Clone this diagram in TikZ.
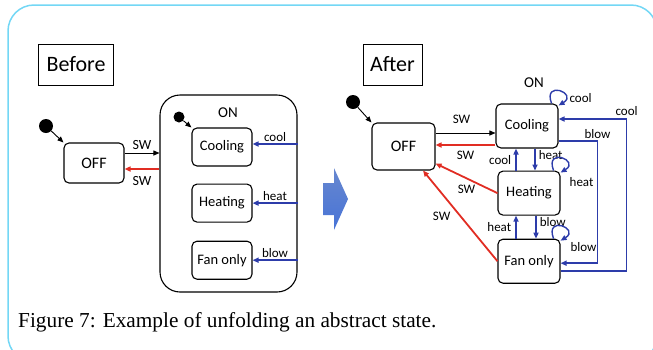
\documentclass[tikz,border=0pt]{standalone}
\usepackage{fontspec}
\setmainfont{Carlito}
\newfontfamily\capfont{Liberation Serif}
\usetikzlibrary{arrows.meta,positioning,calc}

\definecolor{framecyan}{RGB}{115,215,245}
\definecolor{trblue}{RGB}{45,60,170}
\definecolor{trred}{RGB}{225,45,35}
\definecolor{bigblue}{RGB}{65,105,195}

\tikzset{
  state/.style={draw, rounded corners=5pt, line width=1.1pt, minimum width=60pt,
    minimum height=38pt, inner sep=1pt, font=\fontsize{14.5}{16}\selectfont},
  titlebox/.style={draw, line width=0.9pt, minimum width=75pt, minimum height=41pt,
    font=\fontsize{22}{24}\selectfont},
  initdot/.style={circle, fill=black, minimum size=14pt, inner sep=0pt},
  tr/.style={-{Triangle[length=6pt,width=5pt]}, line width=0.9pt},
  blu/.style={tr, trblue, line width=1.6pt},
  rd/.style={tr, trred, line width=1.8pt},
  lbl/.style={text=black, font=\fontsize{13}{15}\selectfont, inner sep=1pt},
  selfloop/.style={blu, line width=1.4pt}
}

\begin{document}
\begin{tikzpicture}[x=1pt, y=-1pt]
    \useasboundingbox (0,0) rectangle (653,349);
    % Outer frame
    \draw[framecyan, line width=1.5pt, rounded corners=26pt] (8,5) rectangle (657,362);

    % ---- Before ----
    \node[titlebox] (Before) at (76,64.5) {Before};
    \node[initdot] (initA) at (46,126) {};
    \node[state, minimum height=40pt, font=\fontsize{16}{18}\selectfont] (offA) at (94,163) {OFF};
    % Composite ON state
    \node[draw, rounded corners=20pt, line width=1.1pt, minimum width=137pt, minimum height=197pt] (onA) at (228.5,193.5) {};
    \node[font=\fontsize{15}{17}\selectfont] (onlblA) at (228,113) {ON};
    \node[initdot, minimum size=11pt] (initB) at (179,117) {};
    \node[state] (coolA) at (222,147) {Cooling};
    \node[state, below=17pt of coolA] (heatA) {Heating};
    \node[state, below=18pt of heatA] (fanA) {Fan only};

    \draw[tr] (initA) -- (offA.north west);
    \draw[tr] (initB) -- (coolA.north west);
    \coordinate (swA1) at ([yshift=10pt]offA.east);
    \coordinate (swA2) at ([yshift=-6pt]offA.east);
    \draw[tr] (swA1) -- (swA1 -| onA.west) node[lbl, midway, above=2pt, font=\fontsize{14}{16}\selectfont] {SW};
    \draw[rd] (swA2 -| onA.west) -- (swA2) node[lbl, midway, below=6pt, font=\fontsize{14}{16}\selectfont] {SW};
    \draw[blu] ([yshift=3pt]coolA.east -| onA.east) -- ([yshift=3pt]coolA.east) node[lbl, midway, above=1pt] {cool};
    \draw[blu] (heatA.east -| onA.east) -- (heatA.east) node[lbl, midway, above=1pt] {heat};
    \draw[blu] (fanA.east -| onA.east) -- (fanA.east) node[lbl, midway, above=1pt] {blow};

    % Arrow between the two halves
    \shade[top color=bigblue!80, bottom color=bigblue!110!black, shading angle=0]
      (323,183) -- (334,183) -- (334,168) -- (348,199) -- (334,230) -- (334,215) -- (323,215) -- cycle;

    % ---- After ----
    \node[titlebox, minimum width=59pt] (After) at (392.5,64.5) {After};
    \node[initdot] (initC) at (353,102) {};
    \node[state, minimum width=63pt, minimum height=47pt, font=\fontsize{16}{18}\selectfont] (offB) at (403.5,146.5) {OFF};
    \node[font=\fontsize{15}{17}\selectfont] (onlblB) at (534,83) {ON};
    \node[state, minimum width=62pt, minimum height=44pt] (coolB) at (527,126) {Cooling};
    \node[state, minimum width=62pt, minimum height=44pt, below=22pt of coolB, xshift=2pt] (heatB) {Heating};
    \node[state, minimum width=62pt, minimum height=44pt, below=23pt of heatB] (fanB) {Fan only};

    \draw[tr] (initC) -- (offB.north west);
    % Transitions to and from OFF
    \coordinate (swB1) at ([yshift=13.5pt]offB.east);
    \coordinate (swB2) at ([yshift=1.5pt]offB.east);
    \draw[tr] (swB1) -- (swB1 -| coolB.west) node[lbl, midway, above=8pt, xshift=-4pt] {SW};
    \draw[rd] (swB2 -| coolB.west) -- (swB2) node[lbl, midway, below=4pt] {SW};
    \draw[rd] (heatB.west) -- ([yshift=-17pt]offB.east) node[lbl, midway, below=5pt] {SW};
    \draw[rd] (fanB.west) -- ([xshift=19.5pt]offB.south) node[lbl, midway, left=8pt] {SW};

    % Transitions between the substates
    \coordinate (ch) at ([xshift=8pt]coolB.south);
    \coordinate (hc) at ([xshift=-13pt]heatB.north);
    \coordinate (hf) at ([xshift=7pt]heatB.south);
    \coordinate (fh) at ([xshift=-13pt]fanB.north);
    \draw[blu] (ch) -- (ch |- heatB.north) node[lbl, pos=.28, right=2pt] {heat};
    \draw[blu] (hc) -- (hc |- coolB.south) node[lbl, midway, left=3pt] {cool};
    \draw[blu] (hf) -- (hf |- fanB.north) node[lbl, pos=.28, right=2pt] {blow};
    \draw[blu] (fh) -- (fh |- heatB.south) node[lbl, midway, left=3pt] {heat};

    % Self loops
    \foreach \st/\ev/\dx/\dy in {coolB/cool/22/5, heatB/heat/21/-11, fanB/blow/23/-8} {
      \draw[selfloop] ([xshift=-7pt]\st.north east) .. controls +(-9,-24) and +(20,-12) .. ([yshift=-2pt]\st.north east);
      \node[lbl] (\st loop) at ([shift={(\dx pt,\dy pt)}]\st.north east) {\ev};
    }

    % Long way round
    \coordinate (fc1) at ([yshift=-10pt]fanB.east);
    \coordinate (fc2) at ([yshift=7pt]coolB.east);
    \coordinate (cf1) at ([yshift=-15pt]coolB.east);
    \coordinate (cf2) at ([yshift=-2pt]fanB.east);
    \draw[blu] (fc1) -- ++(66,0) |- (fc2) node[lbl, pos=.5, above=2pt] {cool};
    \draw[blu] (cf1) -- ++(39,0) node[lbl, pos=1, above=1pt] {blow} |- (cf2);

    % Caption
    \node[anchor=base west, inner sep=0pt, font=\capfont\fontsize{21.3}{23}\selectfont] (caption) at (18,327) {Figure 7: Example of unfolding an abstract state.};
\end{tikzpicture}
\end{document}
